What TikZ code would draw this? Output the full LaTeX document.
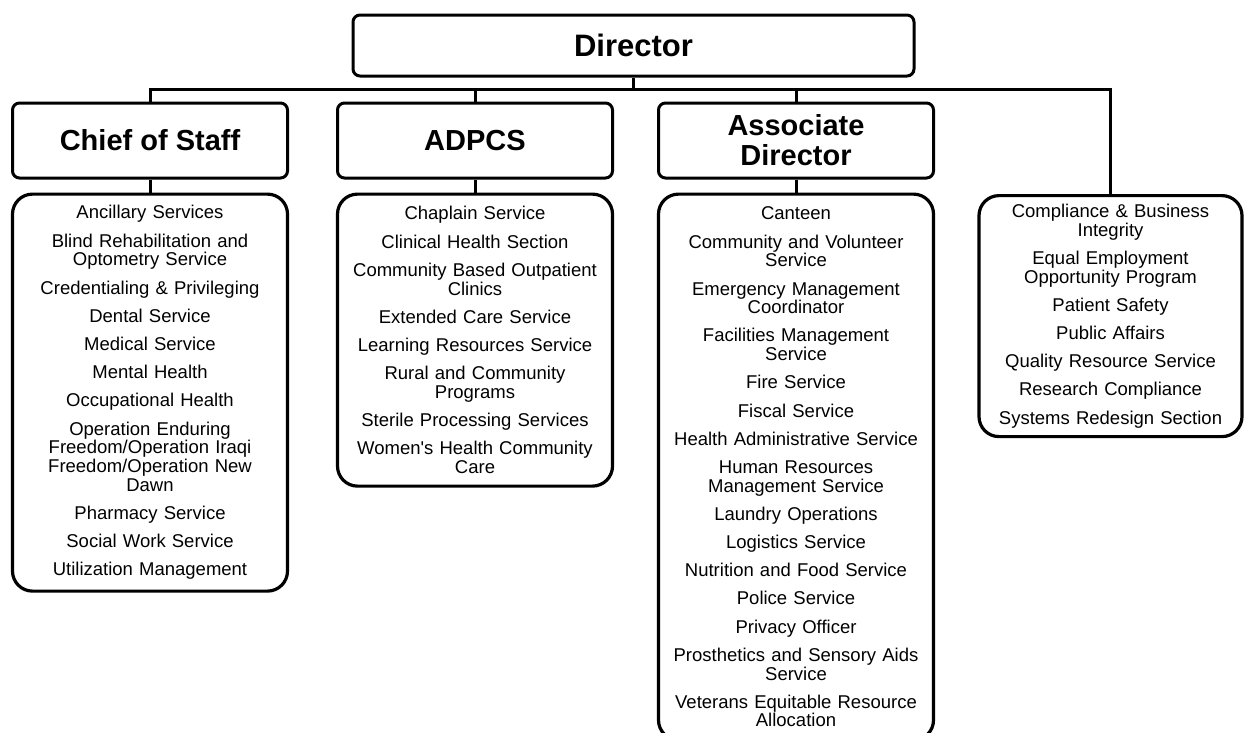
\documentclass[tikz,border=0pt]{standalone}
\usepackage{fontspec}
\setmainfont{Liberation Sans}
\usetikzlibrary{positioning}

\begin{document}
\begin{tikzpicture}[x=1pt, y=-1pt, line width=3pt,
    head/.style = {draw, rounded corners=7pt, minimum width=275pt, minimum height=75pt, inner sep=0pt, align=center, font=\bfseries\fontsize{29pt}{30pt}\selectfont},
    listbox/.style = {draw, rounded corners=20pt, line width=3.2pt, text width=260pt, inner xsep=7.5pt, inner ysep=0pt, align=center, font=\fontsize{18.5pt}{18.7pt}\selectfont}]
  \useasboundingbox (0,0) rectangle (1244,732);
  % top row
  \node[head, minimum width=561pt, minimum height=61pt, font=\bfseries\fontsize{31pt}{32pt}\selectfont] (dir) at (633.5,45.5) {Director};
  \coordinate (bar) at (633.5,89);
  \node[head] (cos) at (150,140.5) {Chief of Staff};
  \node[head] (adpcs) [right=47pt of cos] {ADPCS};
  \node[head] (assoc) [right=43pt of adpcs] {Associate\\Director};
  % service lists
  \node[listbox, minimum height=397pt] (coslist) [below=13pt of cos] {Ancillary Services\\[9.5pt]
    Blind Rehabilitation and\\Optometry Service\\[9.5pt]
    Credentialing \& Privileging\\[9.5pt]
    Dental Service\\[9.5pt]
    Medical Service\\[9.5pt]
    Mental Health\\[9.5pt]
    Occupational Health\\[9.5pt]
    Operation Enduring\\Freedom/Operation Iraqi\\Freedom/Operation New\\Dawn\\[9.5pt]
    Pharmacy Service\\[9.5pt]
    Social Work Service\\[9.5pt]
    Utilization Management};
  \node[listbox, minimum height=292pt] (adpcslist) [below=13pt of adpcs] {Chaplain Service\\[9.5pt]
    Clinical Health Section\\[9.5pt]
    Community Based Outpatient\\Clinics\\[9.5pt]
    Extended Care Service\\[9.5pt]
    Learning Resources Service\\[9.5pt]
    Rural and Community\\Programs\\[9.5pt]
    Sterile Processing Services\\[9.5pt]
    Women\textquotesingle s Health Community\\Care};
  \node[listbox, minimum height=546pt] (assoclist) [below=13pt of assoc] {Canteen\\[9.5pt]
    Community and Volunteer\\Service\\[9.5pt]
    Emergency Management\\Coordinator\\[9.5pt]
    Facilities Management\\Service\\[9.5pt]
    Fire Service\\[9.5pt]
    Fiscal Service\\[9.5pt]
    Health Administrative Service\\[9.5pt]
    Human Resources\\Management Service\\[9.5pt]
    Laundry Operations\\[9.5pt]
    Logistics Service\\[9.5pt]
    Nutrition and Food Service\\[9.5pt]
    Police Service\\[9.5pt]
    Privacy Officer\\[9.5pt]
    Prosthetics and Sensory Aids\\Service\\[9.5pt]
    Veterans Equitable Resource\\Allocation};
  \node[listbox, text width=248pt, minimum height=241pt, anchor=north] (stafflist) at (1110.5,194) {Compliance \& Business\\Integrity\\[9.5pt]
    Equal Employment\\Opportunity Program\\[9.5pt]
    Patient Safety\\[9.5pt]
    Public Affairs\\[9.5pt]
    Quality Resource Service\\[9.5pt]
    Research Compliance\\[9.5pt]
    Systems Redesign Section};
  % connectors
  \draw (dir) -- (bar);
  \draw (cos.north) |- (bar) -| (stafflist.north);
  \draw (adpcs) -- (adpcs |- bar);
  \draw (assoc) -- (assoc |- bar);
  \draw (cos) edge (coslist);
  \draw (adpcs) edge (adpcslist);
  \draw (assoc) edge (assoclist);
\end{tikzpicture}
\end{document}
